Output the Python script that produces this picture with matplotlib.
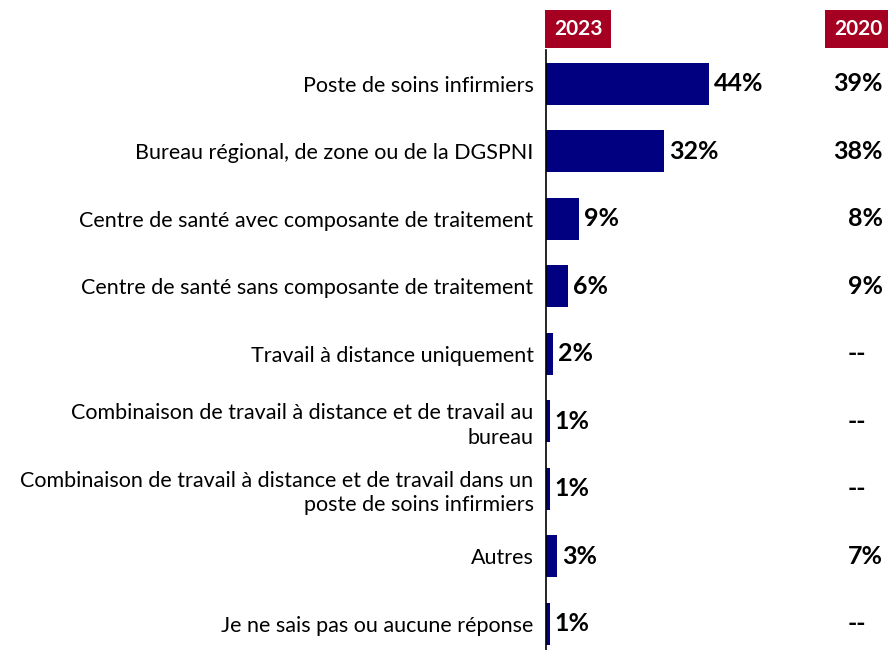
import matplotlib
matplotlib.use('Agg')
from matplotlib import pyplot as plt

categories = ['Poste de soins infirmiers',
              'Bureau régional, de zone ou de la DGSPNI',
              'Centre de santé avec composante de traitement',
              'Centre de santé sans composante de traitement',
              'Travail à distance uniquement',
              'Combinaison de travail à distance et de travail au\nbureau',
              'Combinaison de travail à distance et de travail dans un\nposte de soins infirmiers',
              'Autres',
              'Je ne sais pas ou aucune réponse']
values_2023 = [44, 32, 9, 6, 2, 1, 1, 3, 1]
labels_2020 = ['39%', '38%', '8%', '9%', '--', '--', '--', '7%', '--']

plt.rcParams['font.family'] = ['Lato', 'DejaVu Sans']

fig = plt.figure(figsize=(8.88, 6.5), dpi=100)
ax = fig.add_axes([546/888, 0, 342/888, 600/650])

y = list(range(len(categories)))
ax.barh(y, values_2023, height=0.62, color='#000080')
for yi, v in zip(y, values_2023):
    ax.text(v + 1.3, yi, str(v) + '%', va='center', ha='left',
            fontsize=18, fontweight='bold', color='black')
for yi, lab in zip(y, labels_2020):
    # dashes sit a little left of the percentages, as in the source table
    xr = 0.985 if lab != '--' else 0.935
    ax.text(xr, yi, lab, transform=ax.get_yaxis_transform(),
            va='center', ha='right', fontsize=18, fontweight='bold', color='black')

ax.set_xlim(0, 342/3.7)
ax.set_ylim(8.39, -0.5)
ax.set_yticks(y)
ax.set_yticklabels(categories, fontsize=15.5, linespacing=1.3)
ax.tick_params(axis='y', length=0, pad=9)
ax.set_xticks([])
for s in ['top', 'right', 'bottom']:
    ax.spines[s].set_visible(False)
ax.spines['left'].set_linewidth(1.2)

# column headers
for xc, txt in [(578, '2023'), (858, '2020')]:
    fig.text(xc/888, 1 - 29/650, txt, ha='center', va='center', color='white',
             fontsize=15, fontweight='bold',
             bbox=dict(boxstyle='square,pad=0.42', facecolor='#A50021', edgecolor='none'))

plt.savefig('out.png', dpi=100)
